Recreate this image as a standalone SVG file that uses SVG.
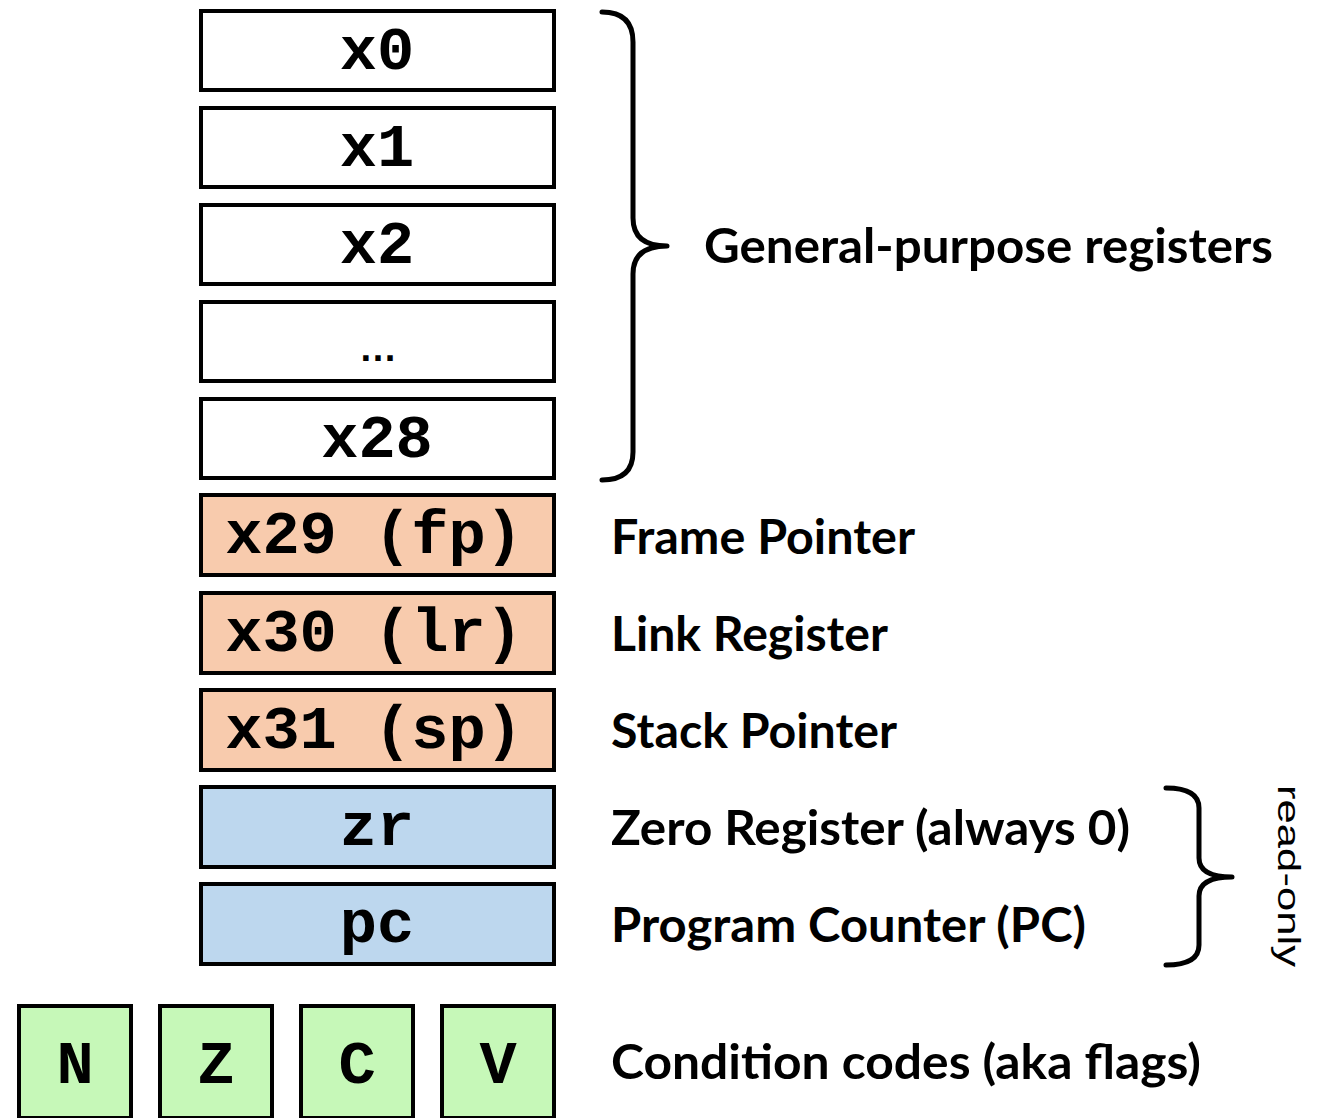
<svg xmlns="http://www.w3.org/2000/svg" width="1334" height="1118" viewBox="0 0 1334 1118">
  <style>
    .reg { stroke: #000; stroke-width: 4; }
    .plain { fill: #fff; }
    .saved { fill: #F8CBAD; }
    .ro { fill: #BDD7EE; }
    .flag { fill: #C6F8B8; }
    .mono { font-family: "Liberation Mono", "Courier New", monospace; font-weight: bold; font-size: 62px; fill: #000; text-anchor: middle; }
    .label { font-family: Lato, "Open Sans", "Liberation Sans", sans-serif; font-weight: bold; font-size: 47px; fill: #000; }
    .brace { fill: none; stroke: #000; stroke-width: 5; stroke-linecap: round; stroke-linejoin: round; }
  </style>

  <!-- register file -->
  <g id="reg-x0"><rect class="reg plain" x="201" y="11" width="353" height="79"/><text class="mono" x="377" y="69">x0</text></g>
  <g id="reg-x1"><rect class="reg plain" x="201" y="108" width="353" height="79"/><text class="mono" x="377" y="166">x1</text></g>
  <g id="reg-x2"><rect class="reg plain" x="201" y="205" width="353" height="79"/><text class="mono" x="377" y="263">x2</text></g>
  <g id="reg-more"><rect class="reg plain" x="201" y="302" width="353" height="79"/><text x="378" y="361" font-family="Liberation Sans, Arial, sans-serif" font-weight="bold" font-size="38" text-anchor="middle">…</text></g>
  <g id="reg-x28"><rect class="reg plain" x="201" y="399" width="353" height="79"/><text class="mono" x="377" y="457">x28</text></g>
  <g id="reg-x29"><rect class="reg saved" x="201" y="495" width="353" height="80"/><text class="mono" x="374" y="553">x29 (fp)</text></g>
  <g id="reg-x30"><rect class="reg saved" x="201" y="593" width="353" height="80"/><text class="mono" x="374" y="651">x30 (lr)</text></g>
  <g id="reg-x31"><rect class="reg saved" x="201" y="690" width="353" height="80"/><text class="mono" x="374" y="748">x31 (sp)</text></g>
  <g id="reg-zr"><rect class="reg ro" x="201" y="787" width="353" height="80"/><text class="mono" x="377" y="845">zr</text></g>
  <g id="reg-pc"><rect class="reg ro" x="201" y="884" width="353" height="80"/><text class="mono" x="377" y="942">pc</text></g>

  <!-- condition flags -->
  <g id="flag-n"><rect class="reg flag" x="19" y="1006" width="112" height="112"/><text class="mono" x="75" y="1083">N</text></g>
  <g id="flag-z"><rect class="reg flag" x="160" y="1006" width="112" height="112"/><text class="mono" x="216" y="1083">Z</text></g>
  <g id="flag-c"><rect class="reg flag" x="301" y="1006" width="112" height="112"/><text class="mono" x="357" y="1083">C</text></g>
  <g id="flag-v"><rect class="reg flag" x="442" y="1006" width="112" height="112"/><text class="mono" x="498" y="1083">V</text></g>

  <!-- braces -->
  <g id="connectors">
    <path class="brace" d="M602,12 Q633,12 633,42 L633,218 Q633,246 667,246 Q633,246 633,274 L633,452 Q633,480 602,480"/>
    <path class="brace" d="M1166,788 Q1199,788 1199,808 L1199,858 Q1199,877 1232,877 Q1199,877 1199,896 L1199,945 Q1199,965 1166,965"/>
  </g>

  <!-- labels -->
  <g id="labels">
    <text class="label" x="704" y="263" textLength="569" lengthAdjust="spacingAndGlyphs">General-purpose registers</text>
    <text class="label" x="611" y="554" textLength="304" lengthAdjust="spacingAndGlyphs">Frame Pointer</text>
    <text class="label" x="611" y="651" textLength="277" lengthAdjust="spacingAndGlyphs">Link Register</text>
    <text class="label" x="611" y="748" textLength="286" lengthAdjust="spacingAndGlyphs">Stack Pointer</text>
    <text class="label" x="611" y="845" textLength="519" lengthAdjust="spacingAndGlyphs">Zero Register (always 0)</text>
    <text class="label" x="611" y="942" textLength="475" lengthAdjust="spacingAndGlyphs">Program Counter (PC)</text>
    <text class="label" x="611" y="1079" textLength="590" lengthAdjust="spacingAndGlyphs">Condition codes (aka flags)</text>
    <text transform="translate(1278,785) rotate(90)" x="0" y="0" font-family="Liberation Sans, Arial, sans-serif" font-size="32" textLength="182" lengthAdjust="spacingAndGlyphs">read-only</text>
  </g>
</svg>
